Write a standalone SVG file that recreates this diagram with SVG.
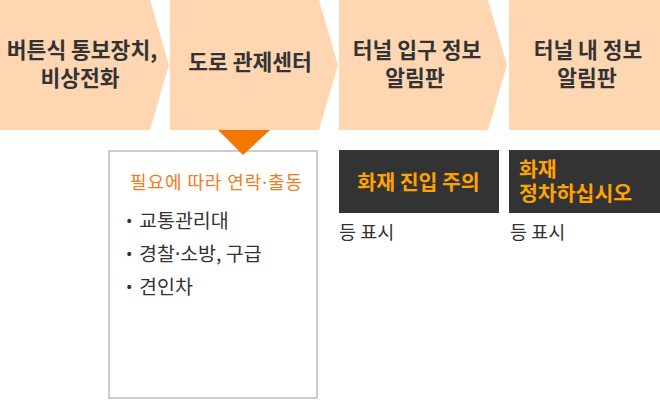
<svg xmlns="http://www.w3.org/2000/svg" width="660" height="400" viewBox="0 0 660 400">
<style>
.chev{fill:#fed6b1}
.ct{font-family:"Noto Sans CJK KR","Noto Sans",sans-serif;font-weight:bold;font-size:21.5px;fill:#333;text-anchor:middle}
.dark{fill:#333}
.dt{font-family:"Noto Sans CJK KR","Noto Sans",sans-serif;font-weight:bold;font-size:20.5px;fill:#ffa300}
.nt{font-family:"Noto Sans CJK KR","Noto Sans",sans-serif;font-size:18.5px;fill:#333}
.bt{font-family:"Noto Sans CJK KR","Noto Sans",sans-serif;font-size:19.5px;fill:#333}
.bl{font-family:"Noto Sans",sans-serif;font-size:17px}
.ht{font-family:"Noto Sans CJK KR","Noto Sans",sans-serif;font-size:18px;fill:#f47b20}
.nd{font-family:"Noto Sans",sans-serif}
</style>
<rect width="660" height="400" fill="#fff"/>
<g id="node-button">
<polygon class="chev" points="0,0 150,0 169,65 150,130 0,130"/>
<text class="ct"><tspan x="82" y="58">버튼식 통보장치,</tspan><tspan x="80" y="86">비상전화</tspan></text>
</g>
<g id="node-control">
<polygon class="chev" points="170,0 319,0 338,65 319,130 170,130"/>
<text class="ct" x="250" y="70">도로 관제센터</text>
</g>
<g id="node-entrance">
<polygon class="chev" points="339,0 488,0 507,65 488,130 339,130"/>
<text class="ct"><tspan x="417" y="58">터널 입구 정보</tspan><tspan x="415" y="86">알림판</tspan></text>
</g>
<g id="node-inside">
<polygon class="chev" points="509,0 660,0 660,130 509,130"/>
<text class="ct"><tspan x="588" y="58">터널 내 정보</tspan><tspan x="587" y="86">알림판</tspan></text>
</g>
<g id="node-contact">
<rect x="109" y="151" width="208" height="247" fill="#fff" stroke="#ccc" stroke-width="2"/>
<text class="ht" x="130" y="189" textLength="172" lengthAdjust="spacing">필요에 따라 연락<tspan class="nd">·</tspan>출동</text>
<text class="bt"><tspan class="bl" x="126" y="227">•</tspan><tspan x="139" y="228">교통관리대</tspan></text>
<text class="bt"><tspan class="bl" x="126" y="260">•</tspan><tspan x="139" y="261">경찰<tspan class="nd">·</tspan>소방, 구급</tspan></text>
<text class="bt"><tspan class="bl" x="126" y="293">•</tspan><tspan x="139" y="294">견인차</tspan></text>
</g>
<g id="node-sign1">
<rect class="dark" x="339" y="150" width="160" height="63"/>
<text class="dt" x="418.5" y="190" text-anchor="middle">화재 진입 주의</text>
<text class="nt" x="339" y="239">등 표시</text>
</g>
<g id="node-sign2">
<rect class="dark" x="509" y="150" width="151" height="63"/>
<text class="dt"><tspan x="519" y="177">화재</tspan><tspan x="519" y="201">정차하십시오</tspan></text>
<text class="nt" x="510" y="239">등 표시</text>
</g>
<g id="connectors">
<polygon points="218,130 270,130 243,155" fill="#f27800"/>
</g>
</svg>
